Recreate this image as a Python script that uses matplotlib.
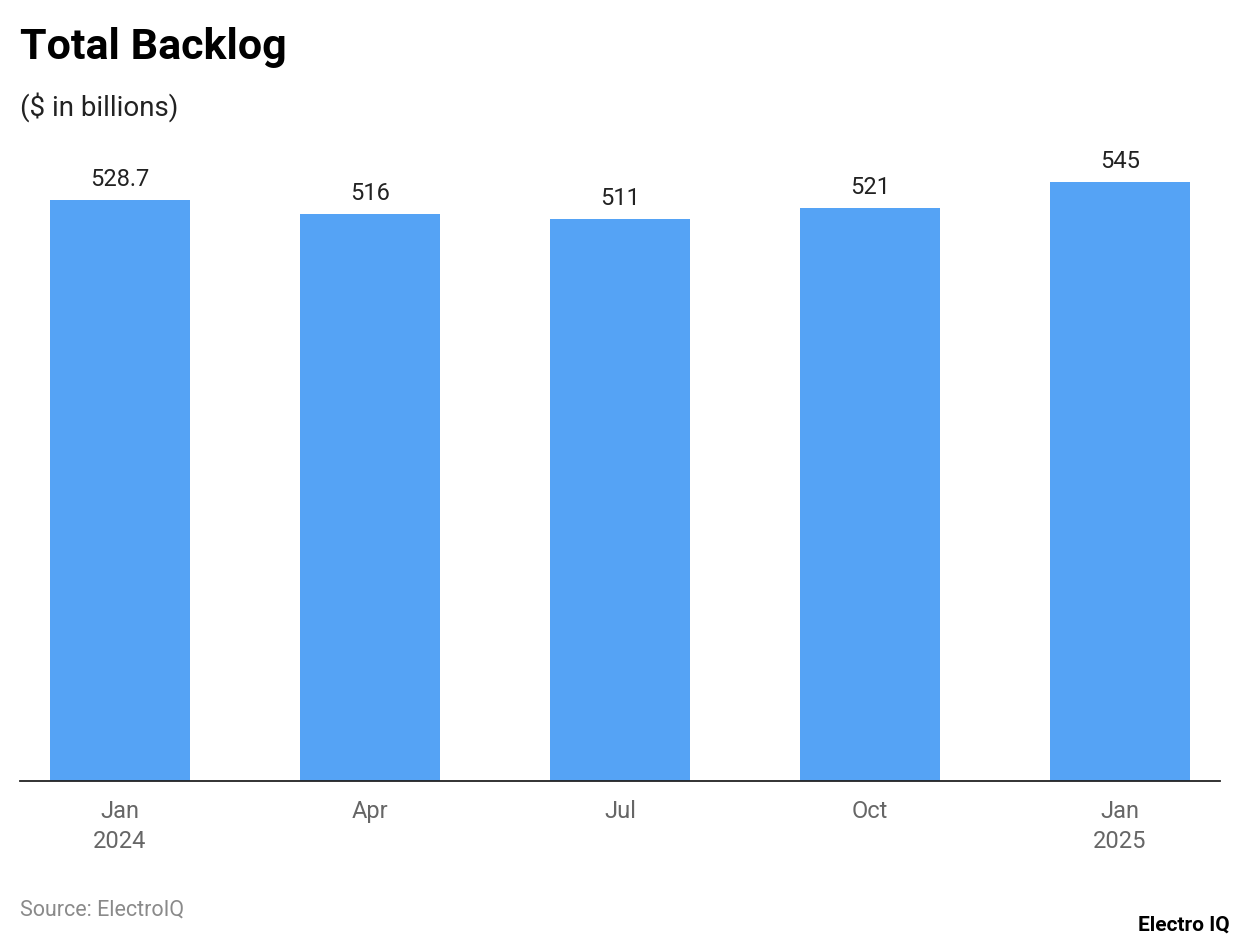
import matplotlib.pyplot as plt

plt.rcParams['font.family'] = ['Roboto', 'DejaVu Sans']

# data
periods = ["Jan\n2024", "Apr", "Jul", "Oct", "Jan\n2025"]
backlog = [528.7, 516, 511, 521, 545]
labels = ["528.7", "516", "511", "521", "545"]

fig = plt.figure(figsize=(12.4, 9.44), dpi=100)
ax = fig.add_axes([20/1240, 163/944, 1200/1240, 631/944])

x = range(len(periods))
bars = ax.bar(x, backlog, width=0.56, color='#55A3F5')
for b, t in zip(bars, labels):
    ax.text(b.get_x() + b.get_width()/2, b.get_height() + 8, t,
            ha='center', va='bottom', fontsize=17, color='#222222')

ax.set_xlim(-0.4, 4.4)
ax.set_ylim(0, 574)
ax.set_xticks(list(x))
ax.set_xticklabels(periods, fontsize=17, color='#666666', linespacing=1.35)
ax.tick_params(axis='x', length=0, pad=14)
ax.set_yticks([])
for s in ['top', 'right', 'left']:
    ax.spines[s].set_visible(False)
ax.spines['bottom'].set_color('#222222')
ax.spines['bottom'].set_linewidth(1.3)

fig.text(20/1240, 1 - 47/944, "Total Backlog", fontsize=31, fontweight='bold',
         va='center', ha='left', color='black')
fig.text(20/1240, 1 - 107/944, "($ in billions)", fontsize=20,
         va='center', ha='left', color='#222222')
fig.text(20/1240, 1 - 910/944, "Source: ElectroIQ", fontsize=15.5,
         va='center', ha='left', color='#8a8a8a')
fig.text(1230/1240, 1 - 925/944, "Electro IQ", fontsize=15, fontweight='bold',
         va='center', ha='right', color='black')

fig.savefig("out.png", dpi=100)
